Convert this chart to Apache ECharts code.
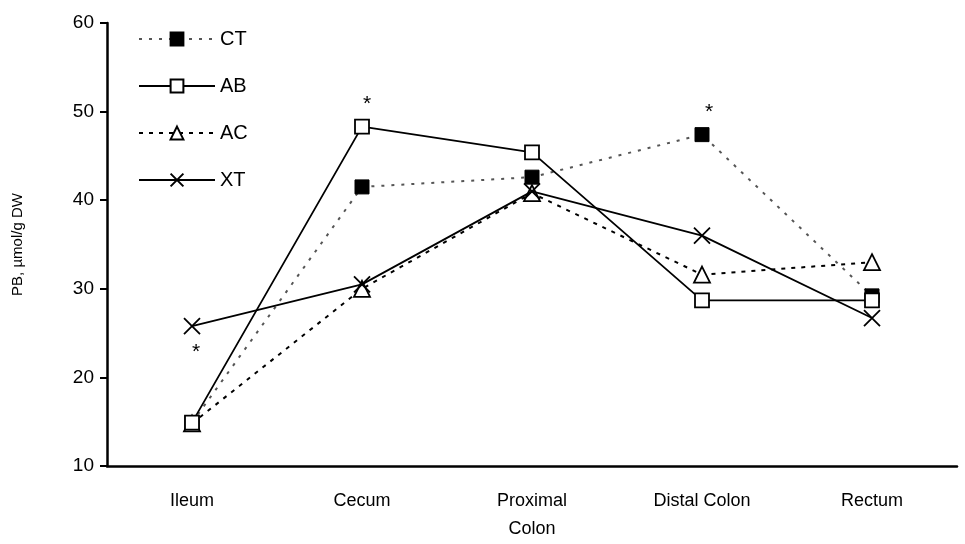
<!DOCTYPE html>
<html>
<head>
<meta charset="utf-8">
<script src="https://cdn.jsdelivr.net/npm/echarts@6/dist/echarts.min.js"></script>
<style>
  html, body { margin: 0; padding: 0; background: #fff; }
  #chart { width: 965px; height: 544px; }
</style>
</head>
<body>
<div id="chart"></div>
<script>
// Intestinal segments along the x axis
var categories = ['Ileum', 'Cecum', 'Proximal\nColon', 'Distal Colon', 'Rectum'];

// PB concentration (µmol/g DW) for each diet group
var ctValues = [14.9, 41.5, 42.6, 47.4, 29.2];
var abValues = [14.9, 48.3, 45.4, 28.7, 28.7];
var acValues = [14.8, 30.0, 40.8, 31.6, 33.0];
var xtValues = [25.8, 30.5, 41.0, 36.0, 26.7];

var yTicks = { min: 10, max: 60, interval: 10 };

// Significance markers: [series name, category index, label position]
var starMarks = [
  ['XT', 0, 'bottom'],
  ['AB', 1, 'top'],
  ['CT', 3, 'top']
];

var crossPath = 'path://M0,0L10,10M10,0L0,10';

function withStars(name, values) {
  return values.map(function (v, i) {
    var mark = starMarks.find(function (m) { return m[0] === name && m[1] === i; });
    if (!mark) return v;
    return {
      value: v,
      label: {
        show: true,
        formatter: '*',
        position: mark[2],
        distance: mark[2] === 'bottom' ? 5 : 4,
        offset: name === 'CT' ? [7, 0] : (name === 'AB' ? [5, 0] : [4, 0]),
        fontSize: 21,
        fontFamily: 'Liberation Sans',
        color: '#000'
      }
    };
  });
}

var chart = echarts.init(document.getElementById('chart'));
chart.setOption({
  animation: false,
  backgroundColor: '#fff',
  textStyle: { fontFamily: 'Liberation Sans' },
  grid: { left: 107, right: 8, top: 23, bottom: 78 },
  legend: {
    left: 133,
    top: 24,
    orient: 'vertical',
    itemWidth: 76,
    itemHeight: 16,
    itemGap: 27,
    textStyle: { fontSize: 20, color: '#000', fontFamily: 'Liberation Sans' },
    data: ['CT', 'AB', 'AC', 'XT']
  },
  xAxis: {
    type: 'category',
    data: categories,
    boundaryGap: true,
    axisLine: { lineStyle: { color: '#000', width: 2.5 } },
    axisTick: { show: false },
    axisLabel: { color: '#000', fontSize: 18, margin: 21, lineHeight: 28 }
  },
  yAxis: {
    type: 'value',
    min: yTicks.min,
    max: yTicks.max,
    interval: yTicks.interval,
    name: 'PB, µmol/g DW',
    nameLocation: 'middle',
    nameGap: 82,
    nameTextStyle: { color: '#000', fontSize: 15 },
    splitLine: { show: false },
    axisLine: { show: true, lineStyle: { color: '#000', width: 2.5 } },
    axisTick: { show: true, length: 7, lineStyle: { color: '#000', width: 2 } },
    axisLabel: { color: '#000', fontSize: 19, margin: 13 }
  },
  series: [
    {
      name: 'CT', type: 'line', data: withStars('CT', ctValues), z: 2,
      symbol: 'rect', symbolSize: 14,
      lineStyle: { color: '#555', width: 2, type: [3, 7] },
      itemStyle: { color: '#000', borderColor: '#000', borderWidth: 1 }
    },
    {
      name: 'AB', type: 'line', data: withStars('AB', abValues), z: 4,
      symbol: 'rect', symbolSize: 14,
      lineStyle: { color: '#000', width: 1.8 },
      itemStyle: { color: '#fff', borderColor: '#000', borderWidth: 1.8 }
    },
    {
      name: 'AC', type: 'line', data: withStars('AC', acValues), z: 3,
      symbol: 'triangle', symbolSize: 16,
      lineStyle: { color: '#000', width: 2, type: [4, 6] },
      itemStyle: { color: '#fff', borderColor: '#000', borderWidth: 1.8 }
    },
    {
      name: 'XT', type: 'line', data: withStars('XT', xtValues), z: 5,
      symbol: crossPath, symbolSize: 16,
      lineStyle: { color: '#000', width: 1.8 },
      itemStyle: { color: 'none', borderColor: '#000', borderWidth: 1.8 }
    }
  ]
});
</script>
</body>
</html>
